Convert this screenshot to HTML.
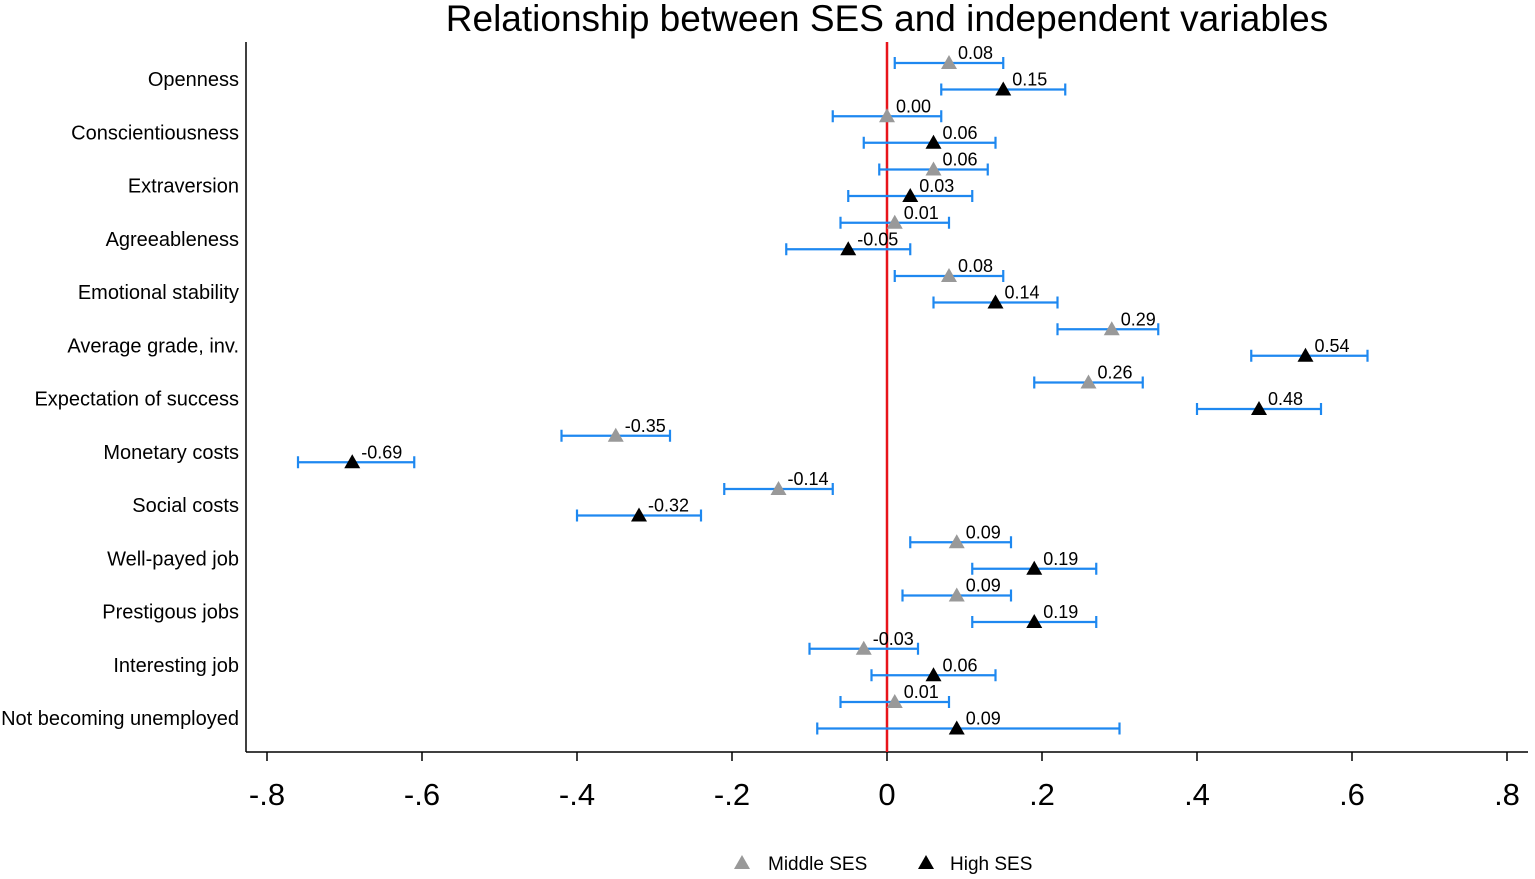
<!DOCTYPE html>
<html><head><meta charset="utf-8"><style>
html,body{margin:0;padding:0;background:#fff;}
svg{display:block;font-family:"Liberation Sans",Arial,sans-serif;}
</style></head><body>
<svg id="chart" width="1535" height="879">
<text x="887" y="31" text-anchor="middle" font-size="37" fill="#000">Relationship between SES and independent variables</text>
<g id="plot"></g>
</svg>
<script>
const categories=["Openness","Conscientiousness","Extraversion","Agreeableness","Emotional stability","Average grade, inv.","Expectation of success","Monetary costs","Social costs","Well-payed job","Prestigous jobs","Interesting job","Not becoming unemployed"];
const midVals=[0.08,0.00,0.06,0.01,0.08,0.29,0.26,-0.35,-0.14,0.09,0.09,-0.03,0.01];
const midLo=[0.01,-0.07,-0.01,-0.06,0.01,0.22,0.19,-0.42,-0.21,0.03,0.02,-0.10,-0.06];
const midHi=[0.15,0.07,0.13,0.08,0.15,0.35,0.33,-0.28,-0.07,0.16,0.16,0.04,0.08];
const highVals=[0.15,0.06,0.03,-0.05,0.14,0.54,0.48,-0.69,-0.32,0.19,0.19,0.06,0.09];
const highLo=[0.07,-0.03,-0.05,-0.13,0.06,0.47,0.40,-0.76,-0.40,0.11,0.11,-0.02,-0.09];
const highHi=[0.23,0.14,0.11,0.03,0.22,0.62,0.56,-0.61,-0.24,0.27,0.27,0.14,0.30];
const xTicks=[-0.8,-0.6,-0.4,-0.2,0,0.2,0.4,0.6,0.8];
const xTickLabels=["-.8","-.6","-.4","-.2","0",".2",".4",".6",".8"];

const NS="http://www.w3.org/2000/svg";
const g=document.getElementById('plot');
const x=v=>887+v*775;
const yRow=i=>79+i*53.25;
function mk(tag,attrs,parent){const e=document.createElementNS(NS,tag);for(const k in attrs)e.setAttribute(k,attrs[k]);(parent||g).appendChild(e);return e;}
function fmt(v){let s=Math.abs(v).toFixed(2);return (v<0?"-":"")+s;}

let e=mk('line',{x1:246,y1:42,x2:246,y2:752,stroke:'#000','stroke-width':1.5});


e=mk('line',{x1:246,y1:752,x2:1528,y2:752,stroke:'#000','stroke-width':1.5});


xTicks.forEach((t,i)=>{
  let l=mk('line',{x1:x(t),y1:752,x2:x(t),y2:761,stroke:'#000','stroke-width':1.5});
  
  
  let tx=mk('text',{x:x(t),y:805,'text-anchor':'middle','font-size':31,fill:'#000'});
  tx.textContent=xTickLabels[i];
  
  
});
categories.forEach((c,i)=>{
  let t=mk('text',{x:239,y:yRow(i)+7,'text-anchor':'end','font-size':20,fill:'#000'});
  t.textContent=c;
  
  
});
e=mk('line',{x1:x(0),y1:42,x2:x(0),y2:752,stroke:'#e8141a','stroke-width':2.5});



function series(vals,lo,hi,dy,color,name){
  vals.forEach((v,i)=>{
    const y=yRow(i)+dy;
    const grp=mk('g',{});
    
    
    const col='#1e88f0';
    mk('line',{x1:x(lo[i]),y1:y,x2:x(hi[i]),y2:y,stroke:col,'stroke-width':2.2},grp);
    mk('line',{x1:x(lo[i]),y1:y-6,x2:x(lo[i]),y2:y+6,stroke:col,'stroke-width':2.2},grp);
    mk('line',{x1:x(hi[i]),y1:y-6,x2:x(hi[i]),y2:y+6,stroke:col,'stroke-width':2.2},grp);
    const cx=x(v);
    mk('polygon',{points:`${cx-8},${y+6} ${cx+8},${y+6} ${cx},${y-8}`,fill:color},grp);
    const t=mk('text',{x:cx+9,y:y-4,'font-size':18,fill:'#000'},grp);
    t.textContent=fmt(v);
  });
}
series(midVals,midLo,midHi,-16,'#999999','middle-ses');
series(highVals,highLo,highHi,10.5,'#000000','high-ses');

const lg=mk('g',{});


mk('polygon',{points:'734,869 750,869 742,855',fill:'#999'},lg);
let lt=mk('text',{x:768,y:870,'font-size':19,fill:'#000'},lg);lt.textContent='Middle SES';
mk('polygon',{points:'918,869 934,869 926,855',fill:'#000'},lg);
lt=mk('text',{x:950,y:870,'font-size':19,fill:'#000'},lg);lt.textContent='High SES';
</script>
</body></html>
